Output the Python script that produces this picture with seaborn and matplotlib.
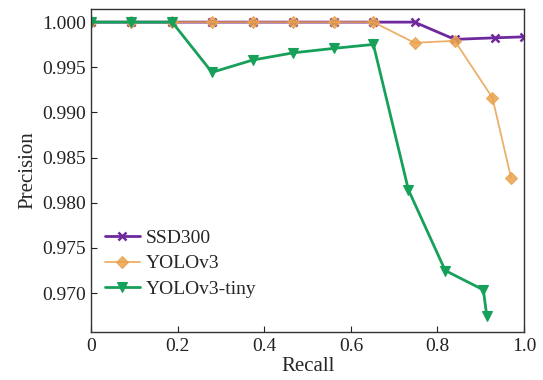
import matplotlib
matplotlib.use("Agg")
import matplotlib.pyplot as plt
import seaborn as sns
import pandas as pd

recall_ssd = [0.0, 0.092, 0.187, 0.279, 0.373, 0.467, 0.560, 0.652, 0.747, 0.840, 0.932, 1.000]
prec_ssd = [1.0, 1.0, 1.0, 1.0, 1.0, 1.0, 1.0, 1.0, 1.0, 0.99809, 0.99826, 0.99837]

recall_yolo = [0.0, 0.092, 0.187, 0.279, 0.373, 0.467, 0.560, 0.652, 0.747, 0.840, 0.927, 0.970]
prec_yolo = [1.0, 1.0, 1.0, 1.0, 1.0, 1.0, 1.0, 1.0, 0.99771, 0.99793, 0.99163, 0.98278]

recall_tiny = [0.0, 0.092, 0.187, 0.279, 0.373, 0.467, 0.560, 0.652, 0.733, 0.818, 0.906, 0.914]
prec_tiny = [1.0, 1.0, 1.0, 0.99444, 0.99580, 0.99660, 0.99709, 0.99753, 0.98142, 0.97249, 0.97035, 0.96747]

x_ticks = [0, 0.2, 0.4, 0.6, 0.8, 1.0]
x_tick_labels = ["0", "0.2", "0.4", "0.6", "0.8", "1.0"]
y_ticks = [0.970, 0.975, 0.980, 0.985, 0.990, 0.995, 1.000]

sns.set_theme(style="white")
plt.rcParams["font.family"] = ["Liberation Serif", "DejaVu Serif"]

fig = plt.figure(figsize=(5.43, 3.80), dpi=100)
ax = fig.add_axes([0.168, 0.126, 0.797, 0.850])

df_ssd = pd.DataFrame({"Recall": recall_ssd, "Precision": prec_ssd})
df_yolo = pd.DataFrame({"Recall": recall_yolo, "Precision": prec_yolo})
df_tiny = pd.DataFrame({"Recall": recall_tiny, "Precision": prec_tiny})

purple = "#6E2A9C"
orange = "#E9A24E"
green = "#17A05A"

sns.lineplot(data=df_ssd, x="Recall", y="Precision", ax=ax, sort=False,
             color=purple, linewidth=2.0, linestyle="-", marker="x",
             markersize=6, markeredgewidth=1.8, markeredgecolor=purple,
             label="SSD300")
sns.lineplot(data=df_yolo, x="Recall", y="Precision", ax=ax, sort=False,
             color=orange, linewidth=1.3, linestyle="-", marker="D",
             markersize=6, markeredgecolor=orange, markeredgewidth=0.8,
             alpha=0.85, label="YOLOv3")
sns.lineplot(data=df_tiny, x="Recall", y="Precision", ax=ax, sort=False,
             color=green, linewidth=2.0, linestyle="-", marker="v",
             markersize=7, markeredgecolor=green, markeredgewidth=0.8,
             label="YOLOv3-tiny")

ax.set_xlim(0, 1.0)
ax.set_ylim(0.96567, 1.00144)
ax.set_xticks(x_ticks)
ax.set_xticklabels(x_tick_labels)
ax.set_yticks(y_ticks)
ax.set_yticklabels([f"{v:.3f}" for v in y_ticks])
ax.tick_params(axis="both", direction="in", length=4, width=0.8, labelsize=14,
               colors="#222222", pad=4, bottom=True, left=True)
for s in ax.spines.values():
    s.set_color("#333333")
    s.set_linewidth(1.0)
ax.set_xlabel("Recall", fontsize=15, labelpad=2)
ax.set_ylabel("Precision", fontsize=15, labelpad=3)

leg = ax.legend(loc="lower left", bbox_to_anchor=(0.0, 0.063), frameon=False,
                fontsize=14, handlelength=1.8, handletextpad=0.3,
                labelspacing=0.42, borderaxespad=0.3)

fig.savefig("out.png", dpi=100)
